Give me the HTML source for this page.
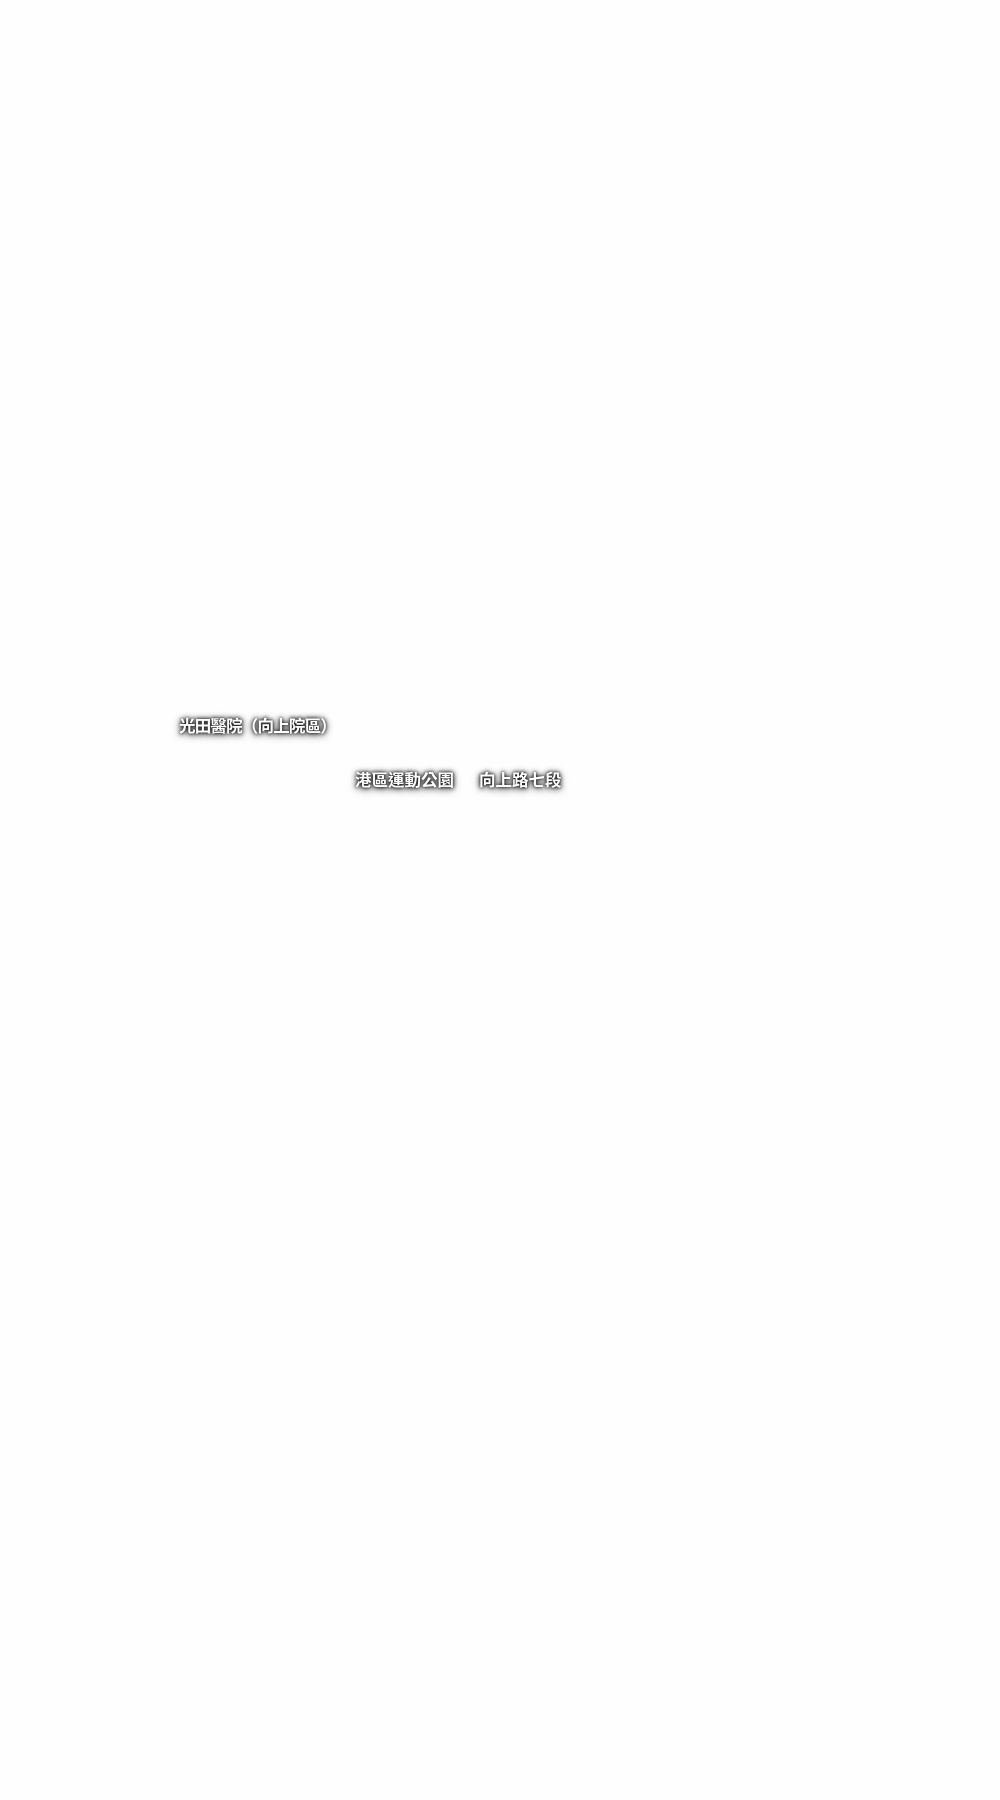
<!DOCTYPE html>
<html><head><meta charset="utf-8"><style>
html,body{margin:0;padding:0;background:#fefefe;}
body{width:1000px;height:1800px;position:relative;overflow:hidden;}
.t{position:absolute;font-family:"Noto Sans CJK TC",sans-serif;font-weight:bold;font-size:16.5px;line-height:20px;color:#fff;white-space:nowrap;
text-shadow:0 0 3px #000,0 0 6px #333,0 2px 8px #555;}
</style></head><body>
<div class="t" style="left:179px;top:715px;letter-spacing:-0.8px;">光田醫院（向上院區）</div>
<div class="t" style="left:355px;top:769px;">港區運動公園</div>
<div class="t" style="left:479px;top:769px;">向上路七段</div>
</body></html>
